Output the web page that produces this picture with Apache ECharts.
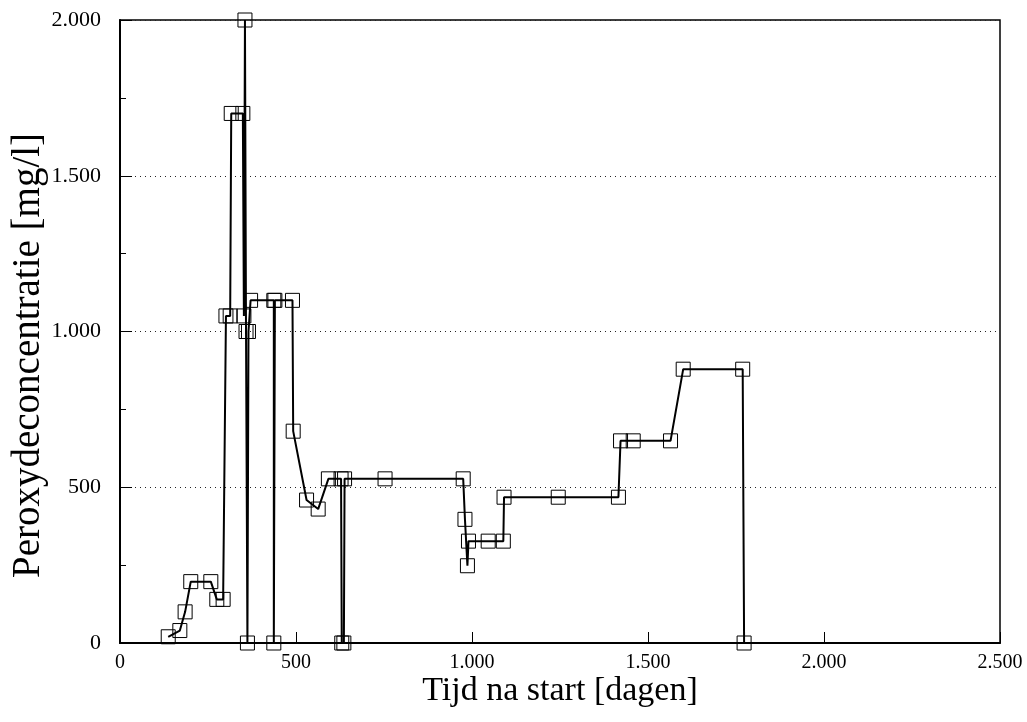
<!DOCTYPE html>
<html>
<head>
<meta charset="utf-8">
<script src="https://cdn.jsdelivr.net/npm/echarts@6/dist/echarts.min.js"></script>
<style>
  html, body { margin: 0; padding: 0; background: #fff; }
  #chart { width: 1027px; height: 722px; }
</style>
</head>
<body>
<div id="chart"></div>
<script>
// tijd na start [dagen] en peroxydeconcentratie [mg/l]
const days = [137, 170, 185, 201, 258, 275, 293, 301, 313, 316, 349, 352, 355, 358, 362, 365, 371,
  437, 437, 440, 490, 492, 530, 563, 592, 628, 630, 636, 638, 753, 975, 980, 987, 990, 1046,
  1089, 1091, 1245, 1416, 1422, 1458, 1564, 1600, 1769, 1773];
const conc = [20, 40, 100, 197, 197, 140, 140, 1050, 1050, 1700, 1700, 1050, 2000, 1000, 0, 1000, 1100,
  1100, 0, 1100, 1100, 680, 459, 430, 527, 527, 0, 0, 527, 527, 527, 397, 248, 327, 327,
  327, 468, 468, 468, 649, 649, 649, 879, 879, 0];
const xTicks = [0, 500, 1000, 1500, 2000, 2500];
const yTicks = [0, 500, 1000, 1500, 2000];

const dutch = v => String(v).replace(/\B(?=(\d{3})+(?!\d))/g, ".");
const font = "Liberation Serif";

const chart = echarts.init(document.getElementById("chart"));
const option = {
  backgroundColor: "#fff",
  animation: false,
  grid: {
    left: 120, right: 27, top: 20, bottom: 79,
    containLabel: false, outerBoundsMode: "none",
    show: true, borderColor: "#000", borderWidth: 1.5, backgroundColor: "transparent"
  },
  xAxis: {
    type: "value",
    min: xTicks[0], max: xTicks[xTicks.length - 1], interval: 500,
    name: "Tijd na start [dagen]",
    nameLocation: "middle", nameGap: 31, nameMoveOverlap: false,
    nameTextStyle: { fontFamily: font, fontSize: 34, color: "#000" },
    axisLine: { lineStyle: { color: "#000", width: 2 } },
    axisTick: { inside: true, length: 11, lineStyle: { color: "#000", width: 1 } },
    axisLabel: { fontFamily: font, fontSize: 20, color: "#000", margin: 10, formatter: dutch },
    splitLine: { show: false }
  },
  yAxis: {
    type: "value",
    min: yTicks[0], max: yTicks[yTicks.length - 1], interval: 500,
    name: "Peroxydeconcentratie [mg/l]",
    nameLocation: "middle", nameGap: 72, nameMoveOverlap: false,
    nameTextStyle: { fontFamily: font, fontSize: 39, color: "#000", padding: [0, 48, 0, 0] },
    axisLine: { lineStyle: { color: "#000", width: 2 } },
    axisTick: { inside: true, length: 12, lineStyle: { color: "#000", width: 1 } },
    minorTick: { show: true, splitNumber: 2, length: 6, lineStyle: { color: "#000", width: 1 } },
    axisLabel: { fontFamily: font, fontSize: 22, color: "#000", margin: 19, formatter: dutch },
    splitLine: { show: true, lineStyle: { color: "#222", width: 1, type: [1, 4] } }
  },
  series: [{
    type: "line",
    data: days.map((d, i) => [d, conc[i]]),
    symbol: "rect",
    symbolSize: 14,
    showAllSymbol: true,
    lineStyle: { color: "#000", width: 2 },
    itemStyle: { color: "rgba(255,255,255,0)", borderColor: "#000", borderWidth: 1 }
  }]
};
chart.setOption(option);
</script>
</body>
</html>
